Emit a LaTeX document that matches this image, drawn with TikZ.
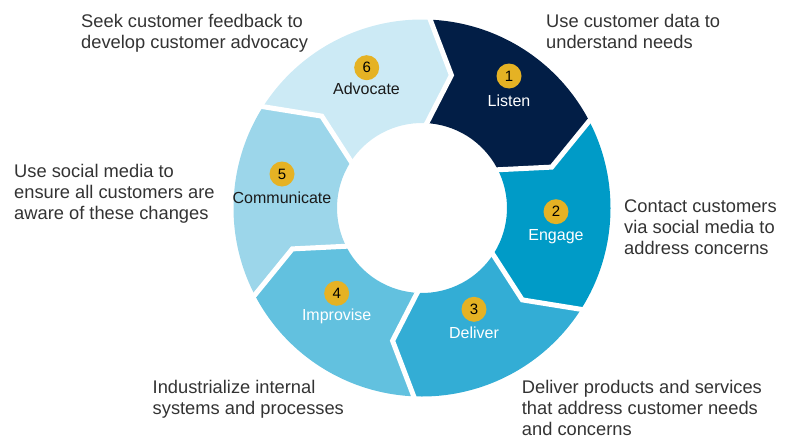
\documentclass[tikz,border=0pt]{standalone}
\usepackage{fontspec}
\setmainfont{Liberation Sans}
\definecolor{cA}{HTML}{021E46}
\definecolor{cB}{HTML}{009BC7}
\definecolor{cC}{HTML}{33ADD5}
\definecolor{cD}{HTML}{62C1DF}
\definecolor{cE}{HTML}{9CD6EA}
\definecolor{cF}{HTML}{CCEAF5}
\definecolor{gold}{HTML}{E5B224}
\definecolor{txt}{HTML}{333333}
\definecolor{dark}{HTML}{1A1A1A}
\begin{document}
\begin{tikzpicture}[x=1pt,y=1pt,
  desc/.style={anchor=north west, inner sep=0pt, align=left, text=txt, font=\fontsize{18.3}{21}\selectfont},
  seglabel/.style={anchor=base, inner sep=0pt, font=\fontsize{16}{19}\selectfont},
  numdot/.style={circle, fill=gold, minimum size=25pt, inner sep=0pt, font=\fontsize{15}{18}\selectfont, text=black},
  gapline/.style={draw=white, line width=5pt, line join=miter}]
\useasboundingbox (0,0) rectangle (787,-439);
\begin{scope}[shift={(422,-208)}]
  \def\Ro{188.5}
  \def\Ri{85}
  \def\Rm{136}
  \foreach \k/\col in {0/cA,1/cB,2/cC,3/cD,4/cE,5/cF}{
    \pgfmathsetmacro\b{88-60*\k}
    \pgfmathsetmacro\e{\b-60}
    \pgfmathsetmacro\bt{\b-10.5}
    \pgfmathsetmacro\et{\e-10.5}
    \fill[\col] (\b:\Ro) arc[start angle=\b, end angle=\e, radius=\Ro]
      -- (\et:\Rm) -- (\e:\Ri) arc[start angle=\e, end angle=\b, radius=\Ri]
      -- (\bt:\Rm) -- cycle;
  }
  \foreach \k in {0,...,5}{
    \pgfmathsetmacro\b{88-60*\k}
    \pgfmathsetmacro\bt{\b-10.5}
    \draw[gapline] (\b:\Ro+4) -- (\bt:\Rm) -- (\b:\Ri-4);
  }
\end{scope}
% segment labels
\node[numdot] (n1) at (509,-76) {1};
\node[seglabel, text=white] (l1) at (509,-106.7) {Listen};
\node[numdot] (n2) at (556,-211.7) {2};
\node[seglabel, text=white] (l2) at (556,-240) {Engage};
\node[numdot] (n3) at (474,-309.3) {3};
\node[seglabel, text=white] (l3) at (474,-338.3) {Deliver};
\node[numdot] (n4) at (336.7,-293.3) {4};
\node[seglabel, text=white] (l4) at (336.7,-320) {Improvise};
\node[numdot] (n5) at (282,-174) {5};
\node[seglabel, text=dark] (l5) at (282,-203.3) {Communicate};
\node[numdot] (n6) at (366.7,-67.7) {6};
\node[seglabel, text=dark] (l6) at (366.5,-94.3) {Advocate};
% descriptions
\node[desc] (d6) at (81,-13.7) {Seek customer feedback to\\develop customer advocacy};
\node[desc] (d1) at (546,-13.7) {Use customer data to\\understand needs};
\node[desc] (d5) at (14,-163.7) {Use social media to\\ensure all customers are\\aware of these changes};
\node[desc] (d2) at (624,-199.7) {Contact customers\\via social media to\\address concerns};
\node[desc] (d4) at (152.5,-379.7) {Industrialize internal\\systems and processes};
\node[desc] (d3) at (521.7,-379.7) {Deliver products and services\\that address customer needs\\and concerns};
\end{tikzpicture}
\end{document}
